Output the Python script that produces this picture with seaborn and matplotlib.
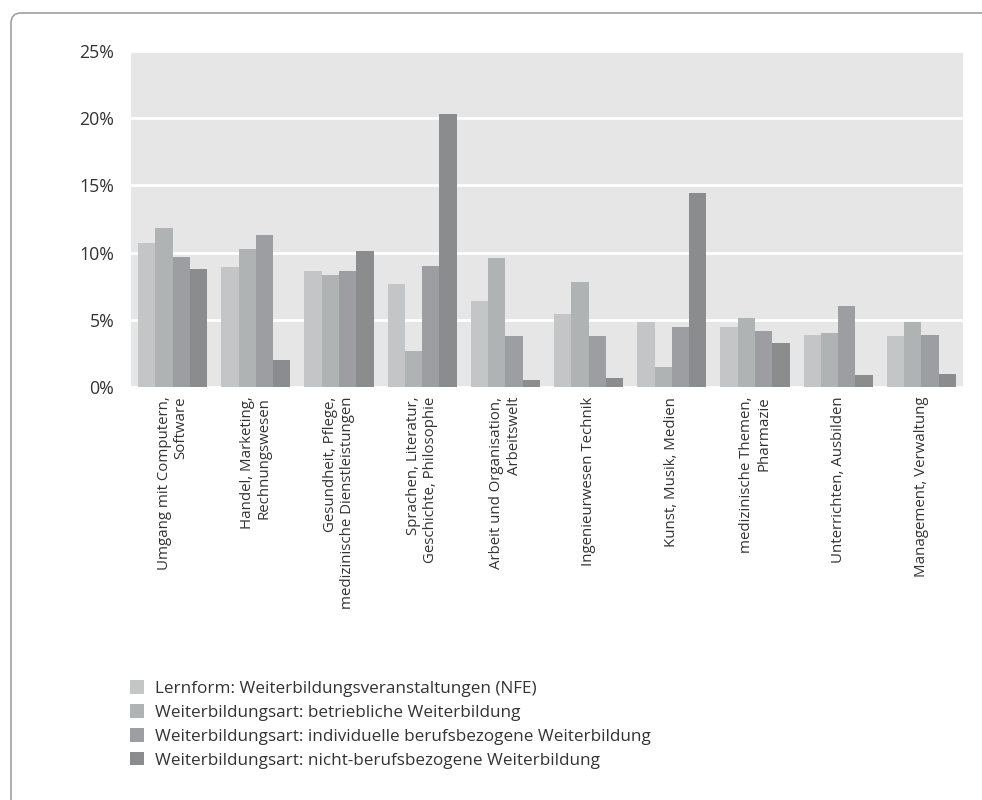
import pandas as pd
import seaborn as sns
import matplotlib.pyplot as plt
from matplotlib.patches import FancyBboxPatch, Patch

# Data (percent)
categories = [
    "Umgang mit Computern,\nSoftware",
    "Handel, Marketing,\nRechnungswesen",
    "Gesundheit, Pflege,\nmedizinische Dienstleistungen",
    "Sprachen, Literatur,\nGeschichte, Philosophie",
    "Arbeit und Organisation,\nArbeitswelt",
    "Ingenieurwesen Technik",
    "Kunst, Musik, Medien",
    "medizinische Themen,\nPharmazie",
    "Unterrichten, Ausbilden",
    "Management, Verwaltung",
]
series = [
    "Lernform: Weiterbildungsveranstaltungen (NFE)",
    "Weiterbildungsart: betriebliche Weiterbildung",
    "Weiterbildungsart: individuelle berufsbezogene Weiterbildung",
    "Weiterbildungsart: nicht-berufsbezogene Weiterbildung",
]
nfe = [10.7, 8.9, 8.6, 7.7, 6.4, 5.4, 4.8, 4.5, 3.9, 3.8]
betrieblich = [11.8, 10.3, 8.3, 2.7, 9.6, 7.8, 1.5, 5.1, 4.0, 4.8]
individuell = [9.7, 11.3, 8.6, 9.0, 3.8, 3.8, 4.5, 4.2, 6.0, 3.9]
nicht_beruf = [8.8, 2.0, 10.1, 20.3, 0.5, 0.7, 14.4, 3.3, 0.9, 1.0]
colors = ["#c4c5c7", "#b0b3b4", "#9d9ea1", "#8b8c8e"]

rows = []
for s, vals in zip(series, [nfe, betrieblich, individuell, nicht_beruf]):
    for c, v in zip(categories, vals):
        rows.append({"Bereich": c, "Serie": s, "Wert": v})
df = pd.DataFrame(rows)

sns.set_theme(style="white")
plt.rcParams["font.family"] = ["Open Sans", "DejaVu Sans"]
text_color = "#333333"

fig = plt.figure(figsize=(9.82, 8), dpi=100)
ax = fig.add_axes([131 / 982, 1 - 387 / 800, (963 - 131) / 982, (387 - 51) / 800])

sns.barplot(
    data=df, x="Bereich", y="Wert", hue="Serie",
    palette=colors, width=0.83, saturation=1, linewidth=0,
    legend=False, ax=ax,
)

ax.set_facecolor("#e6e6e6")
ax.set_ylim(0, 25)
ax.set_yticks([0, 5, 10, 15, 20, 25])
ax.set_yticklabels([f"{t}%" for t in [0, 5, 10, 15, 20, 25]], fontsize=12.8, color=text_color)
ax.yaxis.grid(True, color="white", linewidth=2)
ax.set_axisbelow(True)
for sp in ax.spines.values():
    sp.set_visible(False)
ax.tick_params(axis="both", length=0)
ax.tick_params(axis="y", pad=12)
ax.tick_params(axis="x", pad=7)
ax.set_xlabel("")
ax.set_ylabel("")
for lab in ax.get_xticklabels():
    lab.set_rotation(90)
    lab.set_fontsize(10.8)
    lab.set_color(text_color)
    lab.set_multialignment("right")
    lab.set_va("top")
    lab.set_ha("center")

handles = [Patch(facecolor=c, edgecolor="none") for c in colors]
fig.legend(
    handles, series, loc="upper left", bbox_to_anchor=(115 / 982, 1 - 665 / 800),
    frameon=False, fontsize=12.3, labelcolor=text_color,
    handlelength=0.82, handleheight=0.82, handletextpad=0.64, labelspacing=0.43,
)

# rounded frame, only top and left edges visible
frame = FancyBboxPatch(
    (0.11, -1), 12, 8.87, boxstyle="round,pad=0,rounding_size=0.1",
    transform=fig.dpi_scale_trans, fill=False, edgecolor="#a0a0a0", linewidth=1.2,
)
fig.add_artist(frame)

fig.savefig("out.png", dpi=100, facecolor="white")
